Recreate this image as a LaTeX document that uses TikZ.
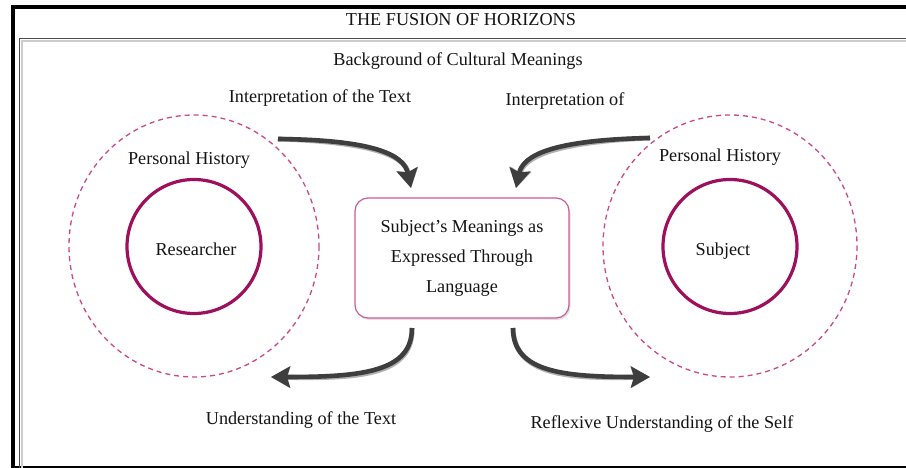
\documentclass[tikz,border=0pt]{standalone}
\usepackage{fontspec}
\setmainfont{Liberation Serif}
\usetikzlibrary{arrows.meta,shadows}

\definecolor{ringcol}{RGB}{158,16,92}
\definecolor{dashcol}{RGB}{204,72,136}
\definecolor{boxcol}{RGB}{204,92,148}
\definecolor{arrowcol}{RGB}{62,62,62}

\tikzset{
  lbl/.style={font=\fontsize{18.2}{20}\selectfont, inner sep=0pt, text=black!92},
  ring/.style={circle, draw=ringcol, line width=3.2pt, minimum size=134pt, inner sep=0pt},
  halo/.style={draw=dashcol, line width=1.3pt, dash pattern=on 5pt off 4pt},
  meanbox/.style={draw=boxcol, line width=1.2pt, rounded corners=13pt, fill=white,
    minimum width=214pt, minimum height=120pt, align=center,
    font=\fontsize{18.2}{30}\selectfont, text=black!92,
    drop shadow={shadow xshift=1.5pt, shadow yshift=-2pt, opacity=0.25}},
  flow/.style={draw=arrowcol, line width=4.6pt,
    -{Stealth[length=19pt, width=21pt, inset=3pt]}},
  flowshade/.style={draw=black!30, line width=5pt,
    -{Stealth[length=19pt, width=21pt, inset=3pt]}}
}

\begin{document}
\begin{tikzpicture}[x=1pt, y=-1pt]
  \clip (0,0) rectangle (906,468);
  \fill[white] (0,0) rectangle (906,468);

  % outer frame
  \draw[line width=4pt, line cap=rect] (12.5,480) -- (12.5,7.5) -- (930,7.5);
  \draw[line width=2pt] (12.5,466.8) -- (930,466.8);
  % inner frame
  \draw[black!20, line width=2pt] (22,480) -- (22,41.5) -- (930,41.5);
  \draw[black!70, line width=1.1pt] (19.5,480) -- (19.5,38.5) -- (930,38.5);

  % titles
  \node[lbl] (title) at (461,20) {THE FUSION OF HORIZONS};
  \node[lbl] (backdrop) at (458,61) {Background of Cultural Meanings};
  \node[lbl] (interpText) at (320,98) {Interpretation of the Text};
  \node[lbl] (interpOf) at (565,101) {Interpretation of};
  \node[lbl] (understandText) at (301,420) {Understanding of the Text};
  \node[lbl] (understandSelf) at (662,424) {Reflexive Understanding of the Self};

  % researcher side
  \draw[halo] (194,246) ellipse [x radius=125, y radius=131];
  \node[ring] (researcher) at (194,246.5) {};
  \node[lbl] at (196,249) {Researcher};
  \node[lbl] (historyL) at (189,160) {Personal History};

  % subject side
  \draw[halo] (730,246) ellipse [x radius=127, y radius=131];
  \node[ring] (subject) at (730,246.5) {};
  \node[lbl] at (723,251) {Subject};
  \node[lbl] (historyR) at (720,157) {Personal History};

  % central box
  \node[meanbox] (meanings) at (462,258)
    {Subject's Meanings as\\Expressed Through\\Language};

  % arrow anchors
  \coordinate (tlStart) at (278,139);
  \coordinate (tlEnd) at (411,188);
  \coordinate (trStart) at (650,138);
  \coordinate (trEnd) at (516,188);
  \coordinate (blStart) at (412,328);
  \coordinate (blEnd) at (271,377);
  \coordinate (brStart) at (513,328);
  \coordinate (brEnd) at (650,377);

  % shading under the arrows
  \begin{scope}[shift={(1.2,2)}]
    \draw[flowshade] (tlStart) .. controls (375,140) and (404,155) .. (tlEnd);
    \draw[flowshade] (trStart) .. controls (553,140) and (523,155) .. (trEnd);
    \draw[flowshade] (blStart) .. controls (412,372) and (362,377) .. (blEnd);
    \draw[flowshade] (brStart) .. controls (513,372) and (563,377) .. (brEnd);
  \end{scope}

  % arrows
  \draw[flow] (tlStart) .. controls (375,140) and (404,155) .. (tlEnd);
  \draw[flow] (trStart) .. controls (553,140) and (523,155) .. (trEnd);
  \draw[flow] (blStart) .. controls (412,372) and (362,377) .. (blEnd);
  \draw[flow] (brStart) .. controls (513,372) and (563,377) .. (brEnd);
\end{tikzpicture}
\end{document}
